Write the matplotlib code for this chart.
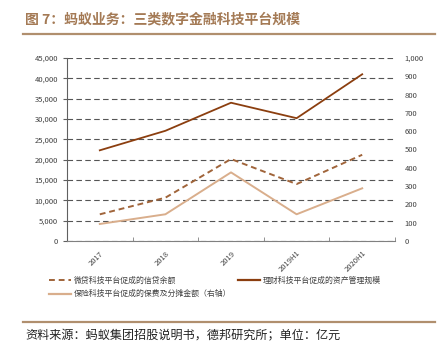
import matplotlib
matplotlib.use("Agg")
import matplotlib.pyplot as plt
from matplotlib.lines import Line2D
from matplotlib.ticker import FuncFormatter

plt.rcParams['font.family'] = ['Noto Sans CJK SC', 'DejaVu Sans']

# data (亿元)
periods = ['2017', '2018', '2019', '2019H1', '2020H1']
credit = [6560, 10650, 20160, 14000, 21200]        # 微贷科技平台促成的信贷余额 (left)
wealth = [22300, 27100, 34000, 30200, 41000]       # 理财科技平台促成的资产管理规模 (left)
insurance = [93, 146, 375, 146, 288]               # 保险科技平台促成的保费及分摊金额 (right)

c_credit = '#A0643A'
c_wealth = '#8B3E0F'
c_ins = '#D9AE8C'
c_brown = '#B08F6E'

fig = plt.figure(figsize=(4.43, 3.53), dpi=100)
ax = fig.add_axes([67/443, 1-241/353, 328/443, 183/353])
ax2 = ax.twinx()

x = range(len(periods))
ax.plot(x, credit, color=c_credit, lw=1.4, ls=(0, (3, 2)), zorder=3)
ax.plot(x, wealth, color=c_wealth, lw=1.3, zorder=3)
ax2.plot(x, insurance, color=c_ins, lw=1.4, zorder=3)

ax.set_xlim(-0.5, 4.5)
ax.set_ylim(0, 45000)
ax.set_yticks(range(0, 45001, 5000))
ax.yaxis.set_major_formatter(FuncFormatter(lambda v, p: f'{int(v):,}'))
ax2.set_ylim(0, 1000)
ax2.set_yticks(range(0, 1001, 100))
ax2.yaxis.set_major_formatter(FuncFormatter(lambda v, p: f'{int(v):,}'))

ax.yaxis.grid(True, color='#555555', ls=(0, (5, 3)), lw=0.8)
ax.set_axisbelow(True)

ax.set_xticks(list(x))
ax.set_xticklabels(periods, rotation=45, ha='right', rotation_mode='anchor')
ax.set_xticks([i - 0.5 for i in range(len(periods) + 1)], minor=True)
ax.tick_params(axis='x', which='major', length=0, labelsize=5.5, labelcolor='#404040', pad=6)
ax.tick_params(axis='x', which='minor', length=3, color='#808080', direction='in')
ax.tick_params(axis='y', length=3, color='#606060', labelsize=5.5, labelcolor='#404040')
ax2.tick_params(axis='y', length=0, labelsize=5.5, labelcolor='#404040', pad=7)

for s in ['top', 'right']:
    ax.spines[s].set_visible(False)
for s in ax2.spines.values():
    s.set_visible(False)
ax.spines['left'].set_color('#606060')
ax.spines['bottom'].set_color('#808080')

handles = [
    Line2D([], [], color=c_credit, lw=1.4, ls=(0, (3, 2))),
    Line2D([], [], color=c_ins, lw=1.6),
    Line2D([], [], color=c_wealth, lw=1.6),
]
labels = ['微贷科技平台促成的信贷余额', '保险科技平台促成的保费及分摊金额（右轴）', '理财科技平台促成的资产管理规模']
fig.legend(handles, labels, loc='upper left', bbox_to_anchor=(49/443, 1-276/353), ncol=2,
           frameon=False, fontsize=5.7, handlelength=2.8, handletextpad=0.3,
           columnspacing=0.9, borderpad=0, borderaxespad=0, labelspacing=0.55,
           labelcolor='#404040')

fig.text(25/443, 1-19/353, '图 7：蚂蚁业务：三类数字金融科技平台规模', fontsize=10,
         fontweight='bold', color='#A47A55', va='center', ha='left')
fig.add_artist(Line2D([23/443, 435/443], [1-34/353, 1-34/353], color=c_brown, lw=1.6))
fig.add_artist(Line2D([23/443, 435/443], [1-322/353, 1-322/353], color=c_brown, lw=1.6))
fig.text(25/443, 1-336/353, '资料来源：蚂蚁集团招股说明书，德邦研究所；单位：亿元', fontsize=8.7,
         color='#222222', va='center', ha='left')

fig.savefig('out.png', dpi=100)
